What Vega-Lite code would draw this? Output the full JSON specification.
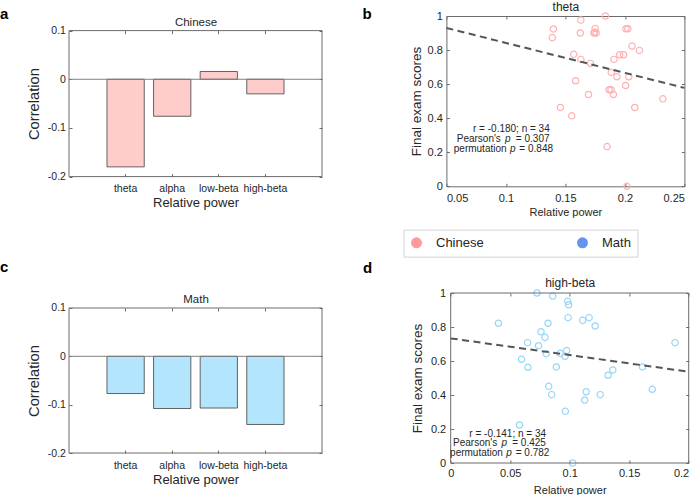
{
  "$schema": "https://vega.github.io/schema/vega-lite/v6.json",
  "padding": 0,
  "background": "white",
  "config": {
    "font": "Liberation Sans",
    "view": {"stroke": "#6b6b6b", "strokeWidth": 1},
    "axis": {"labelFont": "Liberation Sans", "titleFont": "Liberation Sans", "labelColor": "#262626", "titleColor": "#262626", "tickColor": "#6b6b6b", "domain": false, "grid": false, "titleFontWeight": "normal", "tickSize": -3, "tickWidth": 1},
    "locale": {"number": {"decimal": ".", "thousands": ",", "grouping": [3], "currency": ["$", ""], "minus": "-"}}
  },
  "columns": 2,
  "bounds": "flush",
  "spacing": {"row": 106, "column": 124.4},
  "concat": [
    {
      "width": 253, "height": 160.6,
      "view": {"stroke": null},
      "layer": [
        {
          "data": {"values": [{"band": "theta", "r": -0.180}, {"band": "alpha", "r": -0.076}, {"band": "low-beta", "r": 0.016}, {"band": "high-beta", "r": -0.030}]},
          "mark": {"type": "bar", "fill": "#ffcccc", "stroke": "#3f3f3f", "strokeWidth": 0.8},
          "encoding": {
            "x": {"field": "band", "type": "nominal", "scale": {"domain": ["theta", "alpha", "low-beta", "high-beta"], "paddingInner": 0.2, "paddingOuter": 0.815}, "axis": {"orient": "bottom", "title": "Relative power", "titleFontSize": 13, "titleBaseline": "alphabetic", "titleX": 126.5, "titleY": 29.8, "labelFontSize": 10.5, "labelBaseline": "alphabetic", "labelPadding": 18, "labelAngle": 0, "bandPosition": 0.5}},
            "y": {"field": "r", "type": "quantitative", "scale": {"domain": [-0.2, 0.13], "nice": false}, "axis": {"orient": "left", "title": "Correlation", "titleFontSize": 14.7, "titleBaseline": "alphabetic", "titleX": -30.3, "titleY": 87.6, "labelFontSize": 10.5, "labelPadding": 6.6, "values": [-0.2, -0.1, 0, 0.1], "format": "~g"}}
          }
        },
        {
          "data": {"values": [{}]},
          "mark": {"type": "rule", "color": "#808080", "strokeWidth": 1},
          "encoding": {"y": {"datum": 0, "type": "quantitative", "axis": null}}
        },
        {
          "data": {"values": [{}]},
          "mark": {"type": "rect", "fill": "transparent", "stroke": "#6b6b6b", "strokeWidth": 1},
          "encoding": {"y": {"datum": 0.1, "type": "quantitative", "axis": null}, "y2": {"datum": -0.2}}
        },
        {
          "data": {"values": [{}]},
          "mark": {"type": "text", "text": "a", "align": "left", "baseline": "alphabetic", "dx": -125.6, "dy": -12, "fontSize": 15, "fontWeight": "bold", "color": "#000000"},
          "encoding": {
            "x": {"datum": "theta", "type": "nominal", "axis": {"orient": "top", "offset": -14.6, "labels": false, "title": "Chinese", "titleFontSize": 11.5, "titleBaseline": "alphabetic", "titleX": 126.5, "titleY": -5.3, "bandPosition": 0.5}},
            "y": {"datum": 0.1, "type": "quantitative", "axis": {"orient": "right", "labels": false, "title": null, "values": [-0.2, -0.1, 0, 0.1]}}
          }
        }
      ],
      "resolve": {"axis": {"x": "independent", "y": "independent"}}
    },
    {
      "width": 238, "height": 170.3,
      "layer": [
        {
          "data": {"values": [
            {"subject": "Chinese", "power": 0.139, "score": 0.873},
            {"subject": "Chinese", "power": 0.140, "score": 0.924},
            {"subject": "Chinese", "power": 0.163, "score": 0.976},
            {"subject": "Chinese", "power": 0.1625, "score": 0.900},
            {"subject": "Chinese", "power": 0.1836, "score": 1.0},
            {"subject": "Chinese", "power": 0.175, "score": 0.927},
            {"subject": "Chinese", "power": 0.174, "score": 0.900},
            {"subject": "Chinese", "power": 0.1758, "score": 0.900},
            {"subject": "Chinese", "power": 0.1745, "score": 0.905},
            {"subject": "Chinese", "power": 0.2008, "score": 0.925},
            {"subject": "Chinese", "power": 0.2025, "score": 0.925},
            {"subject": "Chinese", "power": 0.206, "score": 0.8235},
            {"subject": "Chinese", "power": 0.2122, "score": 0.798},
            {"subject": "Chinese", "power": 0.157, "score": 0.775},
            {"subject": "Chinese", "power": 0.163, "score": 0.745},
            {"subject": "Chinese", "power": 0.1711, "score": 0.7216},
            {"subject": "Chinese", "power": 0.1908, "score": 0.745},
            {"subject": "Chinese", "power": 0.1956, "score": 0.7725},
            {"subject": "Chinese", "power": 0.1989, "score": 0.7725},
            {"subject": "Chinese", "power": 0.1886, "score": 0.6686},
            {"subject": "Chinese", "power": 0.1933, "score": 0.643},
            {"subject": "Chinese", "power": 0.2033, "score": 0.643},
            {"subject": "Chinese", "power": 0.2006, "score": 0.592},
            {"subject": "Chinese", "power": 0.1586, "score": 0.6196},
            {"subject": "Chinese", "power": 0.1694, "score": 0.539},
            {"subject": "Chinese", "power": 0.1867, "score": 0.567},
            {"subject": "Chinese", "power": 0.1883, "score": 0.567},
            {"subject": "Chinese", "power": 0.1903, "score": 0.539},
            {"subject": "Chinese", "power": 0.2319, "score": 0.5137},
            {"subject": "Chinese", "power": 0.1458, "score": 0.4627},
            {"subject": "Chinese", "power": 0.1553, "score": 0.4137},
            {"subject": "Chinese", "power": 0.2083, "score": 0.4627},
            {"subject": "Chinese", "power": 0.185, "score": 0.2333},
            {"subject": "Chinese", "power": 0.2017, "score": 0.0}
          ]},
          "mark": {"type": "point", "shape": "circle", "filled": false, "size": 40, "strokeWidth": 1.2, "opacity": 1},
          "encoding": {
            "x": {"field": "power", "type": "quantitative", "scale": {"domain": [0.05, 0.25], "nice": false, "zero": false}, "axis": {"orient": "bottom", "title": "Relative power", "titleFontSize": 11, "titleBaseline": "alphabetic", "titleX": 119, "titleY": 29.3, "labelFontSize": 11, "labelBaseline": "alphabetic", "labelPadding": 18, "values": [0.05, 0.1, 0.15, 0.2, 0.25], "format": "~g"}},
            "y": {"field": "score", "type": "quantitative", "scale": {"domain": [0, 1], "nice": false}, "axis": {"orient": "left", "title": "Final exam scores", "titleFontSize": 13.5, "titleBaseline": "alphabetic", "titleX": -25.5, "titleY": 85, "labelFontSize": 11, "labelPadding": 7, "values": [0, 0.2, 0.4, 0.6, 0.8, 1], "format": "~g"}},
            "stroke": {"field": "subject", "type": "nominal", "scale": {"domain": ["Math", "Chinese"], "range": ["#98d6f5", "#ffb0b0"]}, "legend": null}
          }
        },
        {
          "data": {"values": [{"group": "Chinese"}, {"group": "Math"}]},
          "mark": {"type": "point", "shape": "circle", "filled": true, "size": 0, "opacity": 1},
          "encoding": {
            "x": {"datum": 0.15, "type": "quantitative", "axis": null},
            "y": {"datum": 0.5, "type": "quantitative", "axis": null},
            "fill": {"field": "group", "type": "nominal", "scale": {"domain": ["Chinese", "Math"], "range": ["#ff9b9b", "#6495ed"]},
              "legend": {"orient": "none", "legendX": 334.5, "legendY": 213.6, "direction": "horizontal", "title": null, "symbolType": "circle", "symbolSize": 121, "symbolStrokeWidth": 0, "symbolOpacity": 1, "labelFontSize": 13, "labelColor": "#262626", "labelFont": "Liberation Sans", "labelOffset": 13, "columnPadding": 92, "padding": 6.5, "strokeColor": "#d4d4d4", "fillColor": "#ffffff"}}
          }
        },
        {
          "data": {"values": [{"power": 0.05, "score": 0.93}, {"power": 0.25, "score": 0.578}]},
          "mark": {"type": "line", "color": "#555555", "strokeWidth": 2, "strokeDash": [7, 4.5]},
          "encoding": {"x": {"field": "power", "type": "quantitative", "axis": null}, "y": {"field": "score", "type": "quantitative", "axis": null}}
        },
        {
          "data": {"values": [{"x": 0.1046, "y1": 0.339, "y2": 0.28, "y3": 0.219, "line1": "r = -0.180; n = 34", "lab2": "Pearson's", "val2": "= 0.307", "lab3": "permutation", "val3": "= 0.848"}]},
          "encoding": {"x": {"field": "x", "type": "quantitative", "axis": null}},
          "layer": [
            {"mark": {"type": "text", "align": "center", "baseline": "middle", "fontSize": 10, "color": "#262626"}, "encoding": {"y": {"field": "y1", "type": "quantitative", "axis": null}, "text": {"field": "line1"}}},
            {"mark": {"type": "text", "align": "right", "baseline": "middle", "fontSize": 10, "color": "#262626", "dx": -10.5}, "encoding": {"y": {"field": "y2", "type": "quantitative", "axis": null}, "text": {"field": "lab2"}}},
            {"mark": {"type": "text", "text": "p", "align": "center", "baseline": "middle", "fontSize": 10, "fontStyle": "italic", "color": "#262626", "dx": -3.5}, "encoding": {"y": {"field": "y2", "type": "quantitative", "axis": null}}},
            {"mark": {"type": "text", "align": "left", "baseline": "middle", "fontSize": 10, "color": "#262626", "dx": 4.5}, "encoding": {"y": {"field": "y2", "type": "quantitative", "axis": null}, "text": {"field": "val2"}}},
            {"mark": {"type": "text", "align": "right", "baseline": "middle", "fontSize": 10, "color": "#262626", "dx": -4.8}, "encoding": {"y": {"field": "y3", "type": "quantitative", "axis": null}, "text": {"field": "lab3"}}},
            {"mark": {"type": "text", "text": "p", "align": "center", "baseline": "middle", "fontSize": 10, "fontStyle": "italic", "color": "#262626", "dx": 1.3}, "encoding": {"y": {"field": "y3", "type": "quantitative", "axis": null}}},
            {"mark": {"type": "text", "align": "left", "baseline": "middle", "fontSize": 10, "color": "#262626", "dx": 8}, "encoding": {"y": {"field": "y3", "type": "quantitative", "axis": null}, "text": {"field": "val3"}}}
          ]
        },
        {
          "data": {"values": [{}]},
          "mark": {"type": "text", "text": "b", "align": "left", "baseline": "alphabetic", "dx": -84, "dy": 2.6, "fontSize": 15, "fontWeight": "bold", "color": "#000000"},
          "encoding": {
            "x": {"datum": 0.05, "type": "quantitative", "axis": {"orient": "top", "labels": false, "title": "theta", "titleFontSize": 12, "titleBaseline": "alphabetic", "titleX": 119, "titleY": -5.4, "values": [0.05, 0.1, 0.15, 0.2, 0.25]}},
            "y": {"datum": 1, "type": "quantitative", "axis": {"orient": "right", "labels": false, "title": null, "values": [0, 0.2, 0.4, 0.6, 0.8, 1]}}
          }
        }
      ],
      "resolve": {"axis": {"x": "independent", "y": "independent"}}
    },
    {
      "width": 253, "height": 160,
      "view": {"stroke": null},
      "layer": [
        {
          "data": {"values": [{"band": "theta", "r": -0.077}, {"band": "alpha", "r": -0.108}, {"band": "low-beta", "r": -0.107}, {"band": "high-beta", "r": -0.141}]},
          "mark": {"type": "bar", "fill": "#b3e5fc", "stroke": "#3f3f3f", "strokeWidth": 0.8},
          "encoding": {
            "x": {"field": "band", "type": "nominal", "scale": {"domain": ["theta", "alpha", "low-beta", "high-beta"], "paddingInner": 0.2, "paddingOuter": 0.815}, "axis": {"orient": "bottom", "title": "Relative power", "titleFontSize": 13, "titleBaseline": "alphabetic", "titleX": 126.5, "titleY": 30.2, "labelFontSize": 10.5, "labelBaseline": "alphabetic", "labelPadding": 18, "labelAngle": 0, "bandPosition": 0.5}},
            "y": {"field": "r", "type": "quantitative", "scale": {"domain": [-0.2, 0.131], "nice": false}, "axis": {"orient": "left", "title": "Correlation", "titleFontSize": 14.7, "titleBaseline": "alphabetic", "titleX": -30.3, "titleY": 87.5, "labelFontSize": 10.5, "labelPadding": 6.6, "values": [-0.2, -0.1, 0, 0.1], "format": "~g"}}
          }
        },
        {
          "data": {"values": [{}]},
          "mark": {"type": "rule", "color": "#808080", "strokeWidth": 1},
          "encoding": {"y": {"datum": 0, "type": "quantitative", "axis": null}}
        },
        {
          "data": {"values": [{}]},
          "mark": {"type": "rect", "fill": "transparent", "stroke": "#6b6b6b", "strokeWidth": 1},
          "encoding": {"y": {"datum": 0.1, "type": "quantitative", "axis": null}, "y2": {"datum": -0.2}}
        },
        {
          "data": {"values": [{}]},
          "mark": {"type": "text", "text": "c", "align": "left", "baseline": "alphabetic", "dx": -125.6, "dy": -35.6, "fontSize": 15, "fontWeight": "bold", "color": "#000000"},
          "encoding": {
            "x": {"datum": "theta", "type": "nominal", "axis": {"orient": "top", "offset": -15, "labels": false, "title": "Math", "titleFontSize": 11.5, "titleBaseline": "alphabetic", "titleX": 126.5, "titleY": -5.3, "bandPosition": 0.5}},
            "y": {"datum": 0.1, "type": "quantitative", "axis": {"orient": "right", "labels": false, "title": null, "values": [-0.2, -0.1, 0, 0.1]}}
          }
        }
      ],
      "resolve": {"axis": {"x": "independent", "y": "independent"}}
    },
    {
      "width": 242.3, "height": 170,
      "view": {"stroke": null},
      "layer": [
        {
          "data": {"values": [
            {"subject": "Math", "power": 0.0401, "score": 0.822},
            {"subject": "Math", "power": 0.0725, "score": 1.0},
            {"subject": "Math", "power": 0.0759, "score": 0.772},
            {"subject": "Math", "power": 0.0792, "score": 0.739},
            {"subject": "Math", "power": 0.0818, "score": 0.822},
            {"subject": "Math", "power": 0.0646, "score": 0.708},
            {"subject": "Math", "power": 0.0738, "score": 0.690},
            {"subject": "Math", "power": 0.0803, "score": 0.643},
            {"subject": "Math", "power": 0.0595, "score": 0.610},
            {"subject": "Math", "power": 0.0649, "score": 0.563},
            {"subject": "Math", "power": 0.0823, "score": 0.451},
            {"subject": "Math", "power": 0.0578, "score": 0.2235},
            {"subject": "Math", "power": 0.0857, "score": 0.982},
            {"subject": "Math", "power": 0.0983, "score": 0.951},
            {"subject": "Math", "power": 0.0991, "score": 0.931},
            {"subject": "Math", "power": 0.0986, "score": 0.855},
            {"subject": "Math", "power": 0.1109, "score": 0.839},
            {"subject": "Math", "power": 0.1163, "score": 0.855},
            {"subject": "Math", "power": 0.1214, "score": 0.806},
            {"subject": "Math", "power": 0.0921, "score": 0.645},
            {"subject": "Math", "power": 0.0974, "score": 0.661},
            {"subject": "Math", "power": 0.0961, "score": 0.628},
            {"subject": "Math", "power": 0.0888, "score": 0.565},
            {"subject": "Math", "power": 0.1885, "score": 0.708},
            {"subject": "Math", "power": 0.1612, "score": 0.565},
            {"subject": "Math", "power": 0.1323, "score": 0.516},
            {"subject": "Math", "power": 0.1362, "score": 0.547},
            {"subject": "Math", "power": 0.1694, "score": 0.4335},
            {"subject": "Math", "power": 0.0848, "score": 0.402},
            {"subject": "Math", "power": 0.1138, "score": 0.419},
            {"subject": "Math", "power": 0.1126, "score": 0.3706},
            {"subject": "Math", "power": 0.1256, "score": 0.402},
            {"subject": "Math", "power": 0.0963, "score": 0.304},
            {"subject": "Math", "power": 0.1025, "score": 0.0}
          ]},
          "mark": {"type": "point", "shape": "circle", "filled": false, "size": 40, "strokeWidth": 1.2, "opacity": 1},
          "encoding": {
            "x": {"field": "power", "type": "quantitative", "scale": {"domain": [-0.003613, 0.2], "nice": false, "zero": false}, "axis": {"orient": "bottom", "title": "Relative power", "titleFontSize": 11, "titleBaseline": "alphabetic", "titleX": 123.3, "titleY": 30, "labelFontSize": 11, "labelBaseline": "alphabetic", "labelPadding": 16, "values": [0, 0.05, 0.1, 0.15, 0.2], "format": "~g"}},
            "y": {"field": "score", "type": "quantitative", "scale": {"domain": [0, 1], "nice": false}, "axis": {"orient": "left", "offset": -4.3, "title": "Final exam scores", "titleFontSize": 13.5, "titleBaseline": "alphabetic", "titleX": -29, "titleY": 85, "labelFontSize": 11, "labelPadding": 8, "values": [0, 0.2, 0.4, 0.6, 0.8, 1], "format": "~g"}},
            "stroke": {"field": "subject", "type": "nominal", "scale": {"domain": ["Math", "Chinese"], "range": ["#98d6f5", "#ffb0b0"]}, "legend": null}
          }
        },
        {
          "data": {"values": [{"power": 0.0, "score": 0.733}, {"power": 0.2, "score": 0.537}]},
          "mark": {"type": "line", "color": "#555555", "strokeWidth": 2, "strokeDash": [7, 4.5]},
          "encoding": {"x": {"field": "power", "type": "quantitative", "axis": null}, "y": {"field": "score", "type": "quantitative", "axis": null}}
        },
        {
          "data": {"values": [{}]},
          "mark": {"type": "rect", "fill": "transparent", "stroke": "#6b6b6b", "strokeWidth": 1},
          "encoding": {"x": {"datum": 0, "type": "quantitative", "axis": null}, "x2": {"datum": 0.2}, "y": {"datum": 1, "type": "quantitative", "axis": null}, "y2": {"datum": 0}}
        },
        {
          "data": {"values": [{"x": 0.0479, "y1": 0.1706, "y2": 0.1176, "y3": 0.0588, "line1": "r = -0.141; n = 34", "lab2": "Pearson's", "val2": "= 0.425", "lab3": "permutation", "val3": "= 0.782"}]},
          "encoding": {"x": {"field": "x", "type": "quantitative", "axis": null}},
          "layer": [
            {"mark": {"type": "text", "align": "center", "baseline": "middle", "fontSize": 10, "color": "#262626"}, "encoding": {"y": {"field": "y1", "type": "quantitative", "axis": null}, "text": {"field": "line1"}}},
            {"mark": {"type": "text", "align": "right", "baseline": "middle", "fontSize": 10, "color": "#262626", "dx": -10.5}, "encoding": {"y": {"field": "y2", "type": "quantitative", "axis": null}, "text": {"field": "lab2"}}},
            {"mark": {"type": "text", "text": "p", "align": "center", "baseline": "middle", "fontSize": 10, "fontStyle": "italic", "color": "#262626", "dx": -3.5}, "encoding": {"y": {"field": "y2", "type": "quantitative", "axis": null}}},
            {"mark": {"type": "text", "align": "left", "baseline": "middle", "fontSize": 10, "color": "#262626", "dx": 4.5}, "encoding": {"y": {"field": "y2", "type": "quantitative", "axis": null}, "text": {"field": "val2"}}},
            {"mark": {"type": "text", "align": "right", "baseline": "middle", "fontSize": 10, "color": "#262626", "dx": -4.8}, "encoding": {"y": {"field": "y3", "type": "quantitative", "axis": null}, "text": {"field": "lab3"}}},
            {"mark": {"type": "text", "text": "p", "align": "center", "baseline": "middle", "fontSize": 10, "fontStyle": "italic", "color": "#262626", "dx": 1.3}, "encoding": {"y": {"field": "y3", "type": "quantitative", "axis": null}}},
            {"mark": {"type": "text", "align": "left", "baseline": "middle", "fontSize": 10, "color": "#262626", "dx": 8}, "encoding": {"y": {"field": "y3", "type": "quantitative", "axis": null}, "text": {"field": "val3"}}}
          ]
        },
        {
          "data": {"values": [{}]},
          "mark": {"type": "text", "text": "d", "align": "left", "baseline": "alphabetic", "dx": -87.7, "dy": -19.6, "fontSize": 15, "fontWeight": "bold", "color": "#000000"},
          "encoding": {
            "x": {"datum": 0, "type": "quantitative", "axis": {"orient": "top", "labels": false, "title": "high-beta", "titleFontSize": 12, "titleBaseline": "alphabetic", "titleX": 123.3, "titleY": -6.6, "values": [0, 0.05, 0.1, 0.15, 0.2]}},
            "y": {"datum": 1, "type": "quantitative", "axis": {"orient": "right", "labels": false, "title": null, "values": [0, 0.2, 0.4, 0.6, 0.8, 1]}}
          }
        }
      ],
      "resolve": {"axis": {"x": "independent", "y": "independent"}}
    }
  ]
}
